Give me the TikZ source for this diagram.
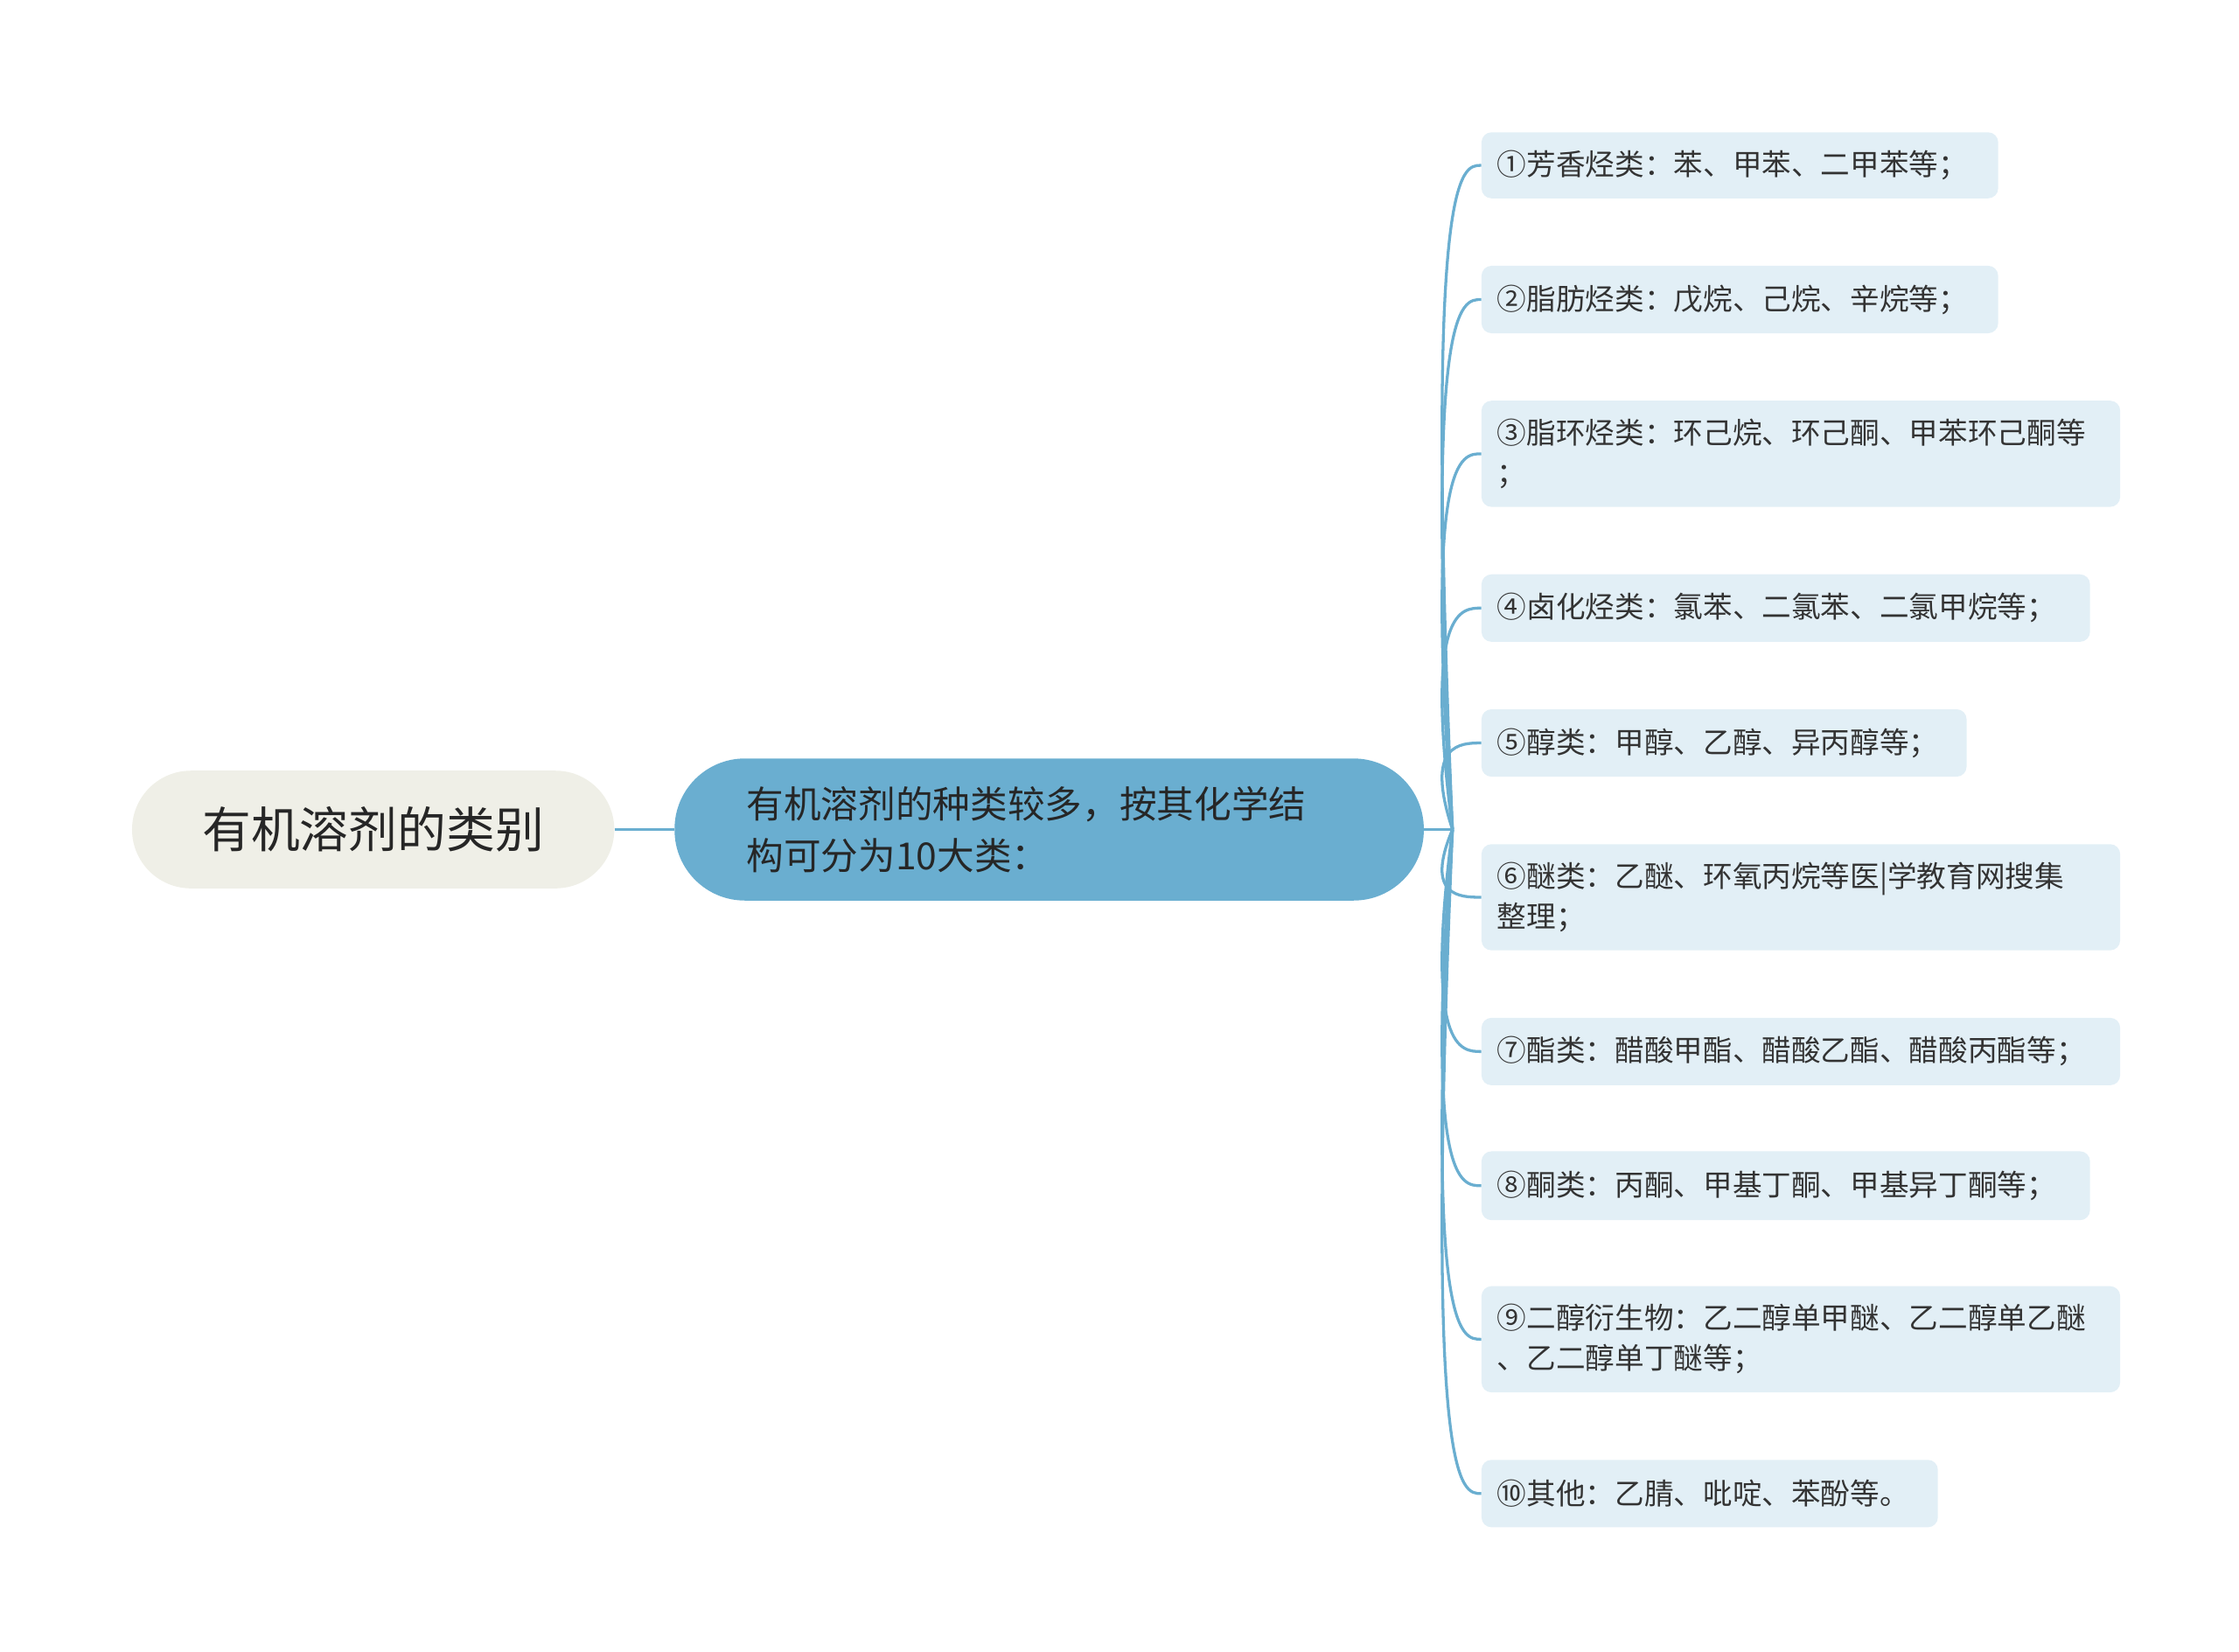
\documentclass[tikz,border=0pt]{standalone}
\usepackage{fontspec}
\setmainfont{Noto Sans CJK SC}
\begin{document}
\begin{tikzpicture}[x=1pt,y=-1pt,
  leaf/.style={fill=leafc,rounded corners=7pt,anchor=north west,inner xsep=11pt,inner ysep=0pt,align=left,text=black!80,font=\fontsize{20.5}{28}\selectfont},
  conn/.style={draw=linec,line width=2pt}]
\definecolor{linec}{HTML}{6AAED0}
\definecolor{leafc}{HTML}{E2EFF6}
\definecolor{rootc}{HTML}{EFEFE7}
\useasboundingbox (0,0) rectangle (1560,1151);
\node[fill=rootc,rounded corners=41pt,minimum width=336pt,minimum height=82pt,inner sep=0pt,font=\fontsize{34}{40}\selectfont,text=black!85] (root) at (260,578) {有机溶剂的类别};
\node[fill=linec,rounded corners=49pt,minimum width=522pt,minimum height=99pt,inner xsep=50pt,text width=422pt,align=left,font=\fontsize{26}{36}\selectfont,text=black!85] (mid) at (731,578) {有机溶剂的种类较多，按其化学结\\构可分为10大类：};
\coordinate (hub) at (1012,578);
\draw[conn] (root.east) -- (mid.west);
\draw[conn] (mid.east) -- (hub);
\foreach \n/\y/\w/\h/\t in {
 1/92/360/46/{①芳香烃类：苯、甲苯、二甲苯等；},
 2/185/360/47/{②脂肪烃类：戊烷、己烷、辛烷等；},
 3/279/445/74/{③脂环烃类：环己烷、环己酮、甲苯环己酮等\\；},
 4/400/424/47/{④卤化烃类：氯苯、二氯苯、二氯甲烷等；},
 5/494/338/47/{⑤醇类：甲醇、乙醇、异丙醇等；},
 6/588/445/74/{⑥醚类：乙醚、环氧丙烷等医|学教育网搜集\\整理；},
 7/709/445/47/{⑦酯类：醋酸甲酯、醋酸乙酯、醋酸丙酯等；},
 8/802/424/48/{⑧酮类：丙酮、甲基丁酮、甲基异丁酮等；},
 9/896/445/74/{⑨二醇衍生物：乙二醇单甲醚、乙二醇单乙醚\\、乙二醇单丁醚等；},
 10/1017/318/47/{⑩其他：乙腈、吡啶、苯酚等。}}{
  \node[leaf,minimum width=\w pt,minimum height=\h pt,text width=\w pt-22pt] (l\n) at (1032,\y) {\t};
  \draw[conn] (hub) .. controls ([xshift=-20pt]l\n.west -| hub) and ([xshift=-14pt]l\n.west) .. (l\n.west);
}
\end{tikzpicture}
\end{document}
